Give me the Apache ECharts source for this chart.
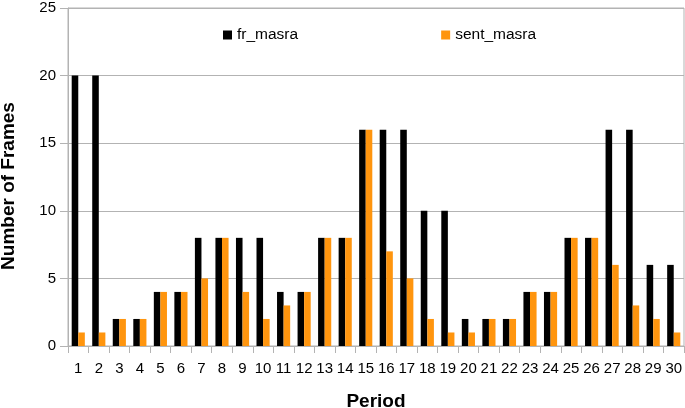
<!DOCTYPE html>
<html><head><meta charset="utf-8">
<script src="https://cdn.jsdelivr.net/npm/echarts@6/dist/echarts.min.js"></script>
<style>html,body{margin:0;padding:0;background:#fff}#c{width:685px;height:408px}</style>
</head><body><div id="c"></div>
<script>
const categories = ['1','2','3','4','5','6','7','8','9','10','11','12','13','14','15','16','17','18','19','20','21','22','23','24','25','26','27','28','29','30'];
const frMasra = [20,20,2,2,4,4,8,8,8,8,4,4,8,8,16,16,16,10,10,2,2,2,4,4,8,8,16,16,6,6];
const sentMasra = [1,1,2,2,4,4,5,8,4,2,3,4,8,8,16,7,5,2,1,1,2,2,4,4,8,8,6,3,2,1];
const yTicks = [0,5,10,15,20,25];

const chart = echarts.init(document.getElementById('c'));
const font = '"Liberation Sans", Arial, sans-serif';
chart.setOption({
  animation: false,
  textStyle: {fontFamily: font},
  grid: {left: 68, right: 1, top: 8, bottom: 62, containLabel: false, outerBoundsMode: 'none',
         show: true, borderColor: '#b3b3b3', borderWidth: 1},
  legend: {
    data: [{name:'fr_masra'},{name:'sent_masra'}],
    top: 22, left: 218, itemGap: 143,
    itemWidth: 9, itemHeight: 9, icon: 'rect',
    textStyle: {fontFamily: font, fontSize: 15.5, color: '#000'}
  },
  xAxis: {
    type: 'category', data: categories,
    name: 'Period', nameLocation: 'middle', nameGap: 46,
    nameTextStyle: {fontFamily: font, fontSize: 19, fontWeight: 'bold', color: '#000'},
    axisLine: {lineStyle: {color: '#b3b3b3'}},
    axisTick: {show: true, length: 7, lineStyle: {color: '#b3b3b3'}},
    axisLabel: {fontFamily: font, fontSize: 15, color: '#000', margin: 15, interval: 0}
  },
  yAxis: {
    type: 'value', min: 0, max: 25, interval: 5,
    name: 'Number of Frames', nameLocation: 'middle', nameGap: 50,
    nameTextStyle: {fontFamily: font, fontSize: 19, fontWeight: 'bold', color: '#000', padding: [0, 18, 0, 0]},
    axisLine: {show: true, lineStyle: {color: '#b3b3b3'}},
    axisTick: {show: true, length: 8, lineStyle: {color: '#b3b3b3'}},
    axisLabel: {fontFamily: font, fontSize: 15, color: '#000', margin: 12,
      formatter: v => yTicks.includes(v) ? String(v) : ''},
    splitLine: {lineStyle: {color: '#b3b3b3'}}
  },
  series: [
    {name: 'fr_masra', type: 'bar', data: frMasra, itemStyle: {color: '#000000'}, barGap: '0%', barCategoryGap: '36%'},
    {name: 'sent_masra', type: 'bar', data: sentMasra, itemStyle: {color: '#ff950e'}, barGap: '0%', barCategoryGap: '36%'}
  ]
});
</script></body></html>
